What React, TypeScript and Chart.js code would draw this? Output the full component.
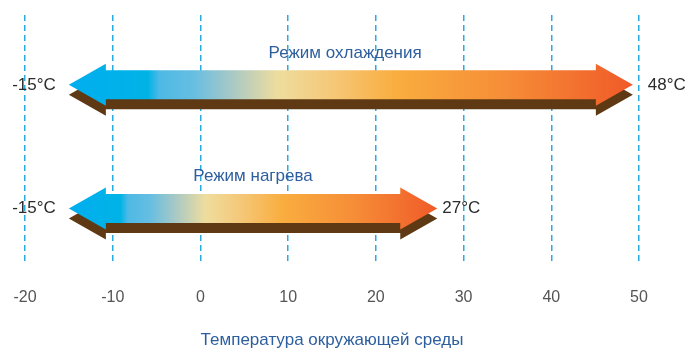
import React, { useEffect, useRef } from "react";
import { Chart, registerables } from "chart.js";

Chart.register(...registerables);

// ---- data ----
const modeNames = ["Режим охлаждения", "Режим нагрева"];
const rangeLow = [-15, -15];
const rangeHigh = [48, 27];
const arrowTip = [49.3, 27];
const lowLabels = ["-15°C", "-15°C"];
const highLabels = ["48°C", "27°C"];
const rowIndex = [1, 0];
const xMin = -20;
const xMax = 50;
const xStep = 10;
const axisTitle = "Температура окружающей среды";

const FONT = "'Liberation Sans', Arial, sans-serif";

const gradientStops: [number, string][] = [
  [0, "#00AEEF"],
  [0.14, "#00B3E6"],
  [0.16, "#4DB9E5"],
  [0.22, "#66BEE2"],
  [0.29, "#A9C9C5"],
  [0.37, "#EEDD9E"],
  [0.47, "#F5C777"],
  [0.58, "#F9AD3F"],
  [0.78, "#F68C37"],
  [1, "#F05A28"],
];

const arrowPlugin = {
  id: "arrows",
  afterDatasetsDraw(chart: any) {
    const { ctx } = chart;
    const xs = chart.scales.x;
    const ys = chart.scales.y;
    const sh = 14.5;
    const hh = 21;
    const hl = 37;
    const depth = 10;
    const endGap = [15, 5];
    for (let i = 0; i < modeNames.length; i++) {
      const xl = xs.getPixelForValue(rangeLow[i]);
      const xr = xs.getPixelForValue(arrowTip[i]);
      const cy = ys.getPixelForValue(rowIndex[i]);
      const path = (dy: number) => {
        ctx.beginPath();
        ctx.moveTo(xl, cy + dy);
        ctx.lineTo(xl + hl, cy - hh + dy);
        ctx.lineTo(xl + hl, cy - sh + dy);
        ctx.lineTo(xr - hl, cy - sh + dy);
        ctx.lineTo(xr - hl, cy - hh + dy);
        ctx.lineTo(xr, cy + dy);
        ctx.lineTo(xr - hl, cy + hh + dy);
        ctx.lineTo(xr - hl, cy + sh + dy);
        ctx.lineTo(xl + hl, cy + sh + dy);
        ctx.lineTo(xl + hl, cy + hh + dy);
        ctx.closePath();
      };
      ctx.save();
      path(depth);
      ctx.fillStyle = "#5E3913";
      ctx.fill();
      const g = ctx.createLinearGradient(xl, 0, xr, 0);
      gradientStops.forEach(([o, c]) => g.addColorStop(o, c));
      path(0);
      ctx.fillStyle = g;
      ctx.fill();

      ctx.textBaseline = "middle";
      ctx.font = `17px ${FONT}`;
      ctx.fillStyle = "#2B2B2B";
      ctx.textAlign = "right";
      ctx.fillText(lowLabels[i], xl - 13, cy);
      ctx.textAlign = "left";
      ctx.fillText(highLabels[i], xr + endGap[i], cy);

      ctx.textAlign = "center";
      ctx.fillStyle = "#2D5E9E";
      const mid = xs.getPixelForValue((rangeLow[i] + rangeHigh[i]) / 2);
      ctx.fillText(modeNames[i], mid, cy - 32);
      ctx.restore();
    }
  },
};

export default function App() {
  const ref = useRef<HTMLCanvasElement>(null);
  useEffect(() => {
    if (!ref.current) return;
    const chart = new Chart(ref.current, {
      type: "line",
      data: { datasets: [] },
      options: {
        animation: false,
        responsive: false,
        maintainAspectRatio: false,
        layout: { padding: { left: 25, right: 46, top: 15, bottom: 1 } },
        plugins: { legend: { display: false }, tooltip: { enabled: false } },
        scales: {
          x: {
            type: "linear",
            min: xMin,
            max: xMax,
            afterFit: (scale: any) => {
              scale.paddingLeft = 0;
              scale.paddingRight = 0;
            },
            ticks: {
              stepSize: xStep,
              padding: 26,
              color: "#555555",
              font: { family: FONT, size: 16 },
            },
            grid: {
              color: "#29ABE2",
              lineWidth: 1.5,
              drawTicks: false,
            },
            border: { display: false, dash: [6, 4] },
            title: {
              display: true,
              text: axisTitle,
              color: "#2D5E9E",
              font: { family: FONT, size: 17 },
              padding: { top: -3, bottom: 0 },
            },
          },
          y: {
            type: "linear",
            display: false,
            min: -0.4355,
            max: 1.5645,
          },
        },
      },
      plugins: [arrowPlugin],
    });
    return () => chart.destroy();
  }, []);
  return (
    <div style={{ position: "fixed", left: 0, top: 0, width: 685, height: 352, background: "#fff" }}>
      <canvas ref={ref} width={685} height={352} />
    </div>
  );
}
